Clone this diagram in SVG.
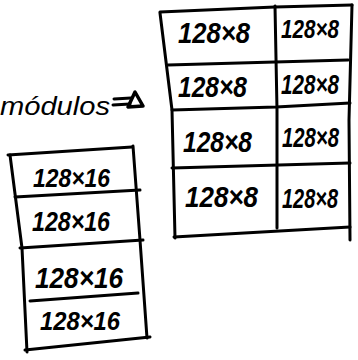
<svg xmlns="http://www.w3.org/2000/svg" width="358" height="360" viewBox="0 0 358 360">
  <style>
    .ln { fill: none; stroke: #000; stroke-width: 3; stroke-linecap: round; stroke-linejoin: round; }
    .cell { font-family: "Liberation Sans", Arial, sans-serif; font-style: italic; font-weight: bold; fill: #000; }
    .lbl { font-family: "Liberation Sans", Arial, sans-serif; font-style: italic; fill: #000; }
  </style>
  <rect width="358" height="360" fill="#fff"/>

  <!-- label with arrow -->
  <g id="label-modulos">
    <text class="lbl" x="0" y="115" font-size="26" textLength="110" lengthAdjust="spacingAndGlyphs">módulos</text>
  </g>
  <g id="arrow">
    <path class="ln" stroke-width="2.5" d="M114,99 L131,98 M113,105 L130,104"/>
    <path d="M135,92 L128,107 L143,106 Z" fill="none" stroke="#000" stroke-width="3.5" stroke-linejoin="round"/>
  </g>

  <!-- upper grid: 4 rows x 2 columns -->
  <g id="grid-128x8">
    <path class="ln" d="M160,12 L275,7 L352,5"/>
    <path class="ln" d="M160,13 Q166,60 172,110 L175,238"/>
    <path class="ln" d="M352,5 L349,120 L350,240"/>
    <path class="ln" d="M174,237 L350,227"/>
    <path class="ln" d="M275,6 L277,110 L277,228"/>
    <path class="ln" d="M168,65 L275,62 L348,60"/>
    <path class="ln" d="M172,110 L276,107 L350,103"/>
    <path class="ln" d="M172,168 L350,163"/>
  </g>
  <g id="cells-128x8">
    <text class="cell" x="178" y="43" font-size="30" textLength="72" lengthAdjust="spacingAndGlyphs">128×8</text>
    <text class="cell" x="281" y="38" font-size="26" textLength="58" lengthAdjust="spacingAndGlyphs">128×8</text>
    <text class="cell" x="178" y="97" font-size="29" textLength="69" lengthAdjust="spacingAndGlyphs">128×8</text>
    <text class="cell" x="281" y="94" font-size="27" textLength="58" lengthAdjust="spacingAndGlyphs">128×8</text>
    <text class="cell" x="183" y="152" font-size="30" textLength="69" lengthAdjust="spacingAndGlyphs">128×8</text>
    <text class="cell" x="282" y="147" font-size="27" textLength="57" lengthAdjust="spacingAndGlyphs">128×8</text>
    <text class="cell" x="185" y="207" font-size="30" textLength="73" lengthAdjust="spacingAndGlyphs">128×8</text>
    <text class="cell" x="282" y="208" font-size="27" textLength="56" lengthAdjust="spacingAndGlyphs">128×8</text>
  </g>

  <!-- lower column: 4 rows -->
  <g id="grid-128x16">
    <path class="ln" d="M8,155 L132,147"/>
    <path class="ln" d="M10,155 Q16,200 22,248 L27,352"/>
    <path class="ln" d="M133,146 L140,240 L147,338"/>
    <path class="ln" d="M25,350 L150,337"/>
    <path class="ln" d="M15,197 L140,190"/>
    <path class="ln" d="M20,248 L143,240"/>
    <path class="ln" d="M30,301 L138,293"/>
  </g>
  <g id="cells-128x16">
    <text class="cell" x="33" y="187" font-size="26" textLength="77" lengthAdjust="spacingAndGlyphs">128×16</text>
    <text class="cell" x="32" y="231" font-size="28" textLength="78" lengthAdjust="spacingAndGlyphs">128×16</text>
    <text class="cell" x="35" y="288" font-size="30" textLength="88" lengthAdjust="spacingAndGlyphs">128×16</text>
    <text class="cell" x="40" y="330" font-size="26" textLength="80" lengthAdjust="spacingAndGlyphs">128×16</text>
  </g>
</svg>
